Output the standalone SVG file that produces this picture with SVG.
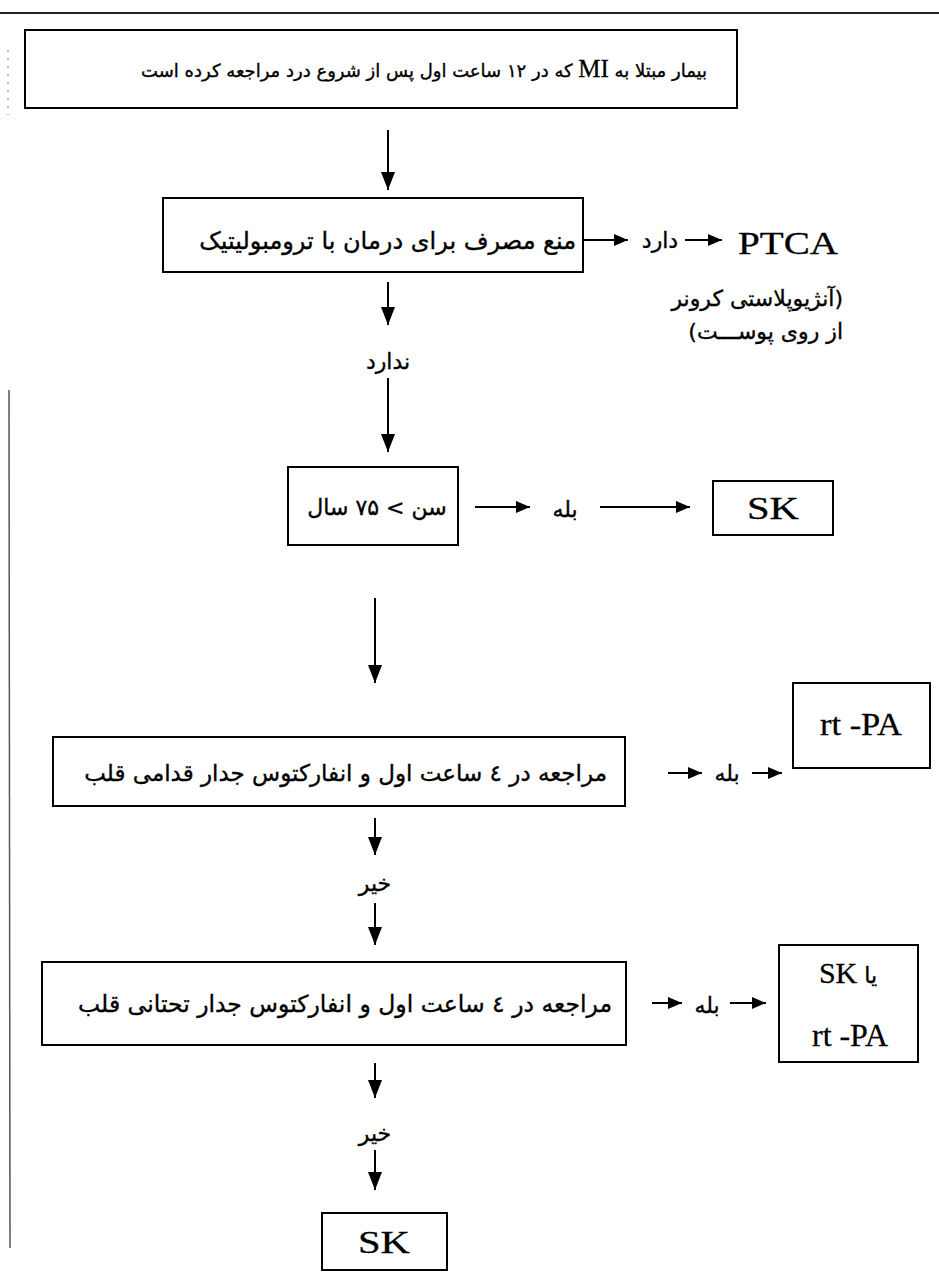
<svg xmlns="http://www.w3.org/2000/svg" width="939" height="1282" viewBox="0 0 939 1282">
<style>
.box{fill:#fff;stroke:#000;stroke-width:2}
.ln{stroke:#000;stroke-width:2;fill:none}
.fa{font-family:"DejaVu Sans",sans-serif;font-size:22px;fill:#000;stroke:#000;stroke-width:0.35;direction:rtl;text-anchor:middle}
.en{font-family:"Liberation Serif",serif;font-size:31px;fill:#000;stroke:#000;stroke-width:0.3;text-anchor:start}
</style>
<defs>
<marker id="ah" markerWidth="18" markerHeight="14" refX="18" refY="7" orient="auto" markerUnits="userSpaceOnUse"><path d="M0,0 L18,7 L0,14 z" fill="#000"/></marker>
<marker id="as" markerWidth="14" markerHeight="12" refX="14" refY="6" orient="auto" markerUnits="userSpaceOnUse"><path d="M0,0 L14,6 L0,12 z" fill="#000"/></marker>
</defs>
<rect width="939" height="1282" fill="#fff"/>
<g id="frame">
<line x1="0" y1="13" x2="939" y2="13" stroke="#222" stroke-width="2"/>
<line x1="9" y1="390" x2="10" y2="1248" stroke="#555" stroke-width="1.5"/>
<line x1="8" y1="50" x2="8" y2="115" stroke="#777" stroke-width="1" stroke-dasharray="2,6"/>
</g>
<g id="connectors">
<line class="ln" x1="388" y1="130" x2="388" y2="190" marker-end="url(#ah)"/>
<line class="ln" x1="583" y1="240" x2="628" y2="240" marker-end="url(#as)"/>
<line class="ln" x1="685" y1="240" x2="722" y2="240" marker-end="url(#as)"/>
<line class="ln" x1="388" y1="282" x2="388" y2="325" marker-end="url(#ah)"/>
<line class="ln" x1="388" y1="378" x2="388" y2="452" marker-end="url(#ah)"/>
<line class="ln" x1="475" y1="507" x2="530" y2="507" marker-end="url(#as)"/>
<line class="ln" x1="600" y1="507" x2="690" y2="507" marker-end="url(#as)"/>
<line class="ln" x1="375" y1="598" x2="375" y2="683" marker-end="url(#ah)"/>
<line class="ln" x1="668" y1="773" x2="702" y2="773" marker-end="url(#as)"/>
<line class="ln" x1="752" y1="773" x2="782" y2="773" marker-end="url(#as)"/>
<line class="ln" x1="375" y1="818" x2="375" y2="855" marker-end="url(#ah)"/>
<line class="ln" x1="375" y1="903" x2="375" y2="945" marker-end="url(#ah)"/>
<line class="ln" x1="652" y1="1003" x2="682" y2="1003" marker-end="url(#as)"/>
<line class="ln" x1="730" y1="1003" x2="766" y2="1003" marker-end="url(#as)"/>
<line class="ln" x1="375" y1="1063" x2="375" y2="1098" marker-end="url(#ah)"/>
<line class="ln" x1="375" y1="1150" x2="375" y2="1190" marker-end="url(#ah)"/>
</g>
<g id="n1">
<rect class="box" x="25" y="30" width="712" height="78"/>
<text class="fa" x="707" y="77" style="font-size:18px;text-anchor:start">بیمار مبتلا به  <tspan font-family="Liberation Serif" font-size="25" stroke-width="0.3">MI</tspan> که در ۱۲ ساعت اول پس از شروع درد مراجعه کرده است</text>
</g>
<g id="n2">
<rect class="box" x="163" y="198" width="420" height="74"/>
<text class="fa" x="576" y="249" style="font-size:24px;text-anchor:start">منع مصرف برای درمان با ترومبولیتیک</text>
</g>
<g id="l-dard">
<text class="fa" x="660" y="248">دارد</text>
</g>
<g id="n-ptca">
<text class="en" x="738" y="254" textLength="100" lengthAdjust="spacingAndGlyphs">PTCA</text>
<text class="fa" x="843" y="306" style="text-anchor:start">(آنژیوپلاستی کرونر</text>
<text class="fa" x="843" y="339" style="text-anchor:start">از روی پوســـت)</text>
</g>
<g id="l-nadard">
<text class="fa" x="388" y="369">ندارد</text>
</g>
<g id="n3">
<rect class="box" x="288" y="467" width="170" height="78"/>
<text class="fa" x="377" y="515">سن &gt; ۷۵ سال</text>
</g>
<g id="l-bale1">
<text class="fa" x="565" y="517">بله</text>
</g>
<g id="n-sk1">
<rect class="box" x="713" y="481" width="120" height="54"/>
<text class="en" x="747" y="519" textLength="52" lengthAdjust="spacingAndGlyphs">SK</text>
</g>
<g id="n4">
<rect class="box" x="53" y="737" width="572" height="69"/>
<text class="fa" x="607" y="781" style="font-size:23px;text-anchor:start">مراجعه در ٤ ساعت اول و  انفارکتوس جدار قدامی قلب</text>
</g>
<g id="l-bale2">
<text class="fa" x="727" y="781">بله</text>
</g>
<g id="n-rtpa">
<rect class="box" x="793" y="683" width="137" height="85"/>
<text class="en" x="820" y="735" textLength="82" lengthAdjust="spacingAndGlyphs">rt -PA</text>
</g>
<g id="l-kheir1">
<text class="fa" x="375" y="891">خیر</text>
</g>
<g id="n5">
<rect class="box" x="42" y="962" width="584" height="83"/>
<text class="fa" x="612" y="1012" style="font-size:23.5px;text-anchor:start">مراجعه در ٤ ساعت اول و  انفارکتوس جدار تحتانی قلب</text>
</g>
<g id="l-bale3">
<text class="fa" x="707" y="1013">بله</text>
</g>
<g id="n-skrt">
<rect class="box" x="779" y="945" width="139" height="117"/>
<text class="fa" x="848" y="983">یا <tspan font-family="Liberation Serif" font-size="30" stroke-width="0.3">SK</tspan></text>
<text class="en" x="812" y="1046" textLength="76" lengthAdjust="spacingAndGlyphs">rt -PA</text>
</g>
<g id="l-kheir2">
<text class="fa" x="375" y="1141">خیر</text>
</g>
<g id="n-sk2">
<rect class="box" x="322" y="1213" width="125" height="57"/>
<text class="en" x="358" y="1253" textLength="52" lengthAdjust="spacingAndGlyphs">SK</text>
</g>
</svg>
